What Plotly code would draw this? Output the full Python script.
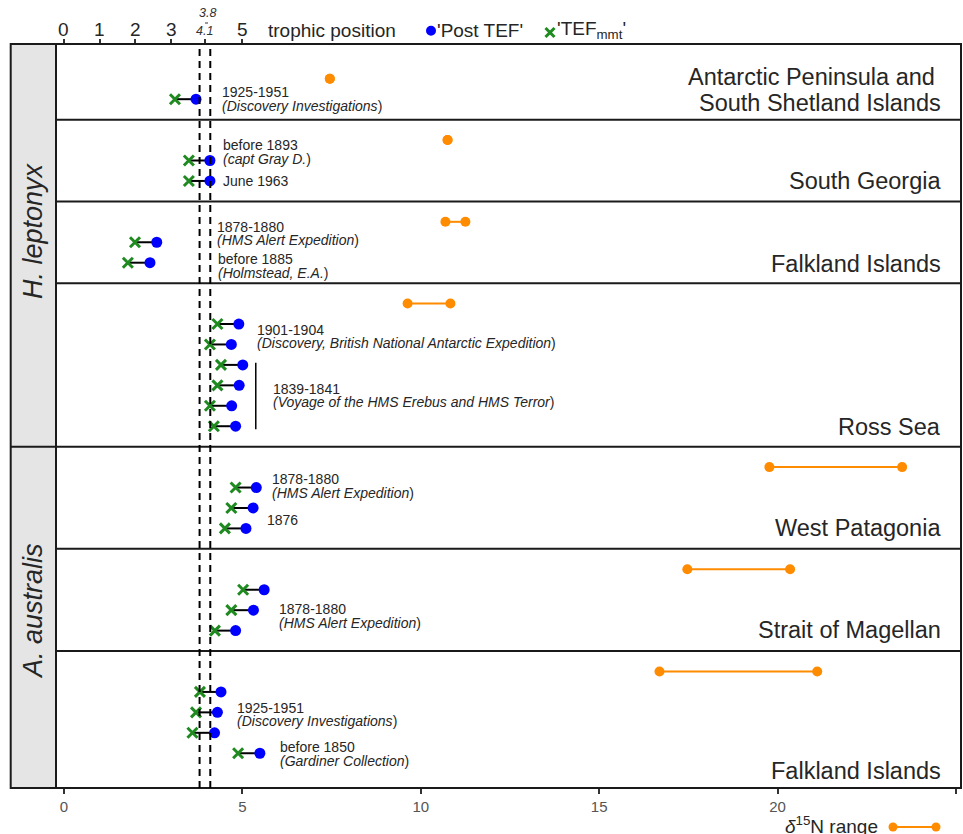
import plotly.graph_objects as go

# ---------------------------------------------------------------- data
regions = [
    "Antarctic Peninsula and South Shetland Islands",
    "South Georgia",
    "Falkland Islands",
    "Ross Sea",
    "West Patagonia",
    "Strait of Magellan",
    "Falkland Islands",
]
species = ["H. leptonyx", "H. leptonyx", "H. leptonyx", "H. leptonyx",
           "A. australis", "A. australis", "A. australis"]

# delta 15N range per region (min, max)
d15n_min = [7.45, 10.75, 10.69, 9.63, 19.77, 17.47, 16.69]
d15n_max = [7.45, 10.75, 11.25, 10.83, 23.49, 20.35, 21.11]

# trophic position per specimen
post_tef = [
    [3.70],
    [4.09, 4.09],
    [2.60, 2.41],
    [4.90, 4.69, 5.01, 4.91, 4.70, 4.81],
    [5.39, 5.30, 5.10],
    [5.61, 5.31, 4.81],
    [4.40, 4.30, 4.22, 5.49],
]
tef_mmt = [
    [3.11],
    [3.50, 3.50],
    [1.99, 1.79],
    [4.30, 4.09, 4.40, 4.30, 4.09, 4.20],
    [4.81, 4.69, 4.51],
    [5.02, 4.69, 4.23],
    [3.81, 3.70, 3.60, 4.88],
]

# collection notes: (panel, year text, source text)
note_panel = [0, 1, 1, 2, 2, 3, 3, 4, 4, 5, 6, 6]
note_year = ["1925-1951", "before 1893", "June 1963", "1878-1880", "before 1885",
             "1901-1904", "1839-1841", "1878-1880", "1876", "1878-1880",
             "1925-1951", "before 1850"]
note_source = ["Discovery Investigations", "capt Gray D.", None,
               "HMS Alert Expedition", "Holmstead, E.A.",
               "Discovery, British National Antarctic Expedition",
               "Voyage of the HMS Erebus and HMS Terror",
               "HMS Alert Expedition", None, "HMS Alert Expedition",
               "Discovery Investigations", "Gardiner Collection"]

tef_lines = [3.8, 4.1]
bottom_ticks = [0, 5, 10, 15, 20, 25]
top_ticks = [0, 1, 2, 3, 5]

# ---------------------------------------------------------------- layout helpers
FONT = "Liberation Sans, Arial, sans-serif"
TXT = "#262626"
ORANGE = "#ff8c00"
BLUE = "#0000ff"
GREEN = "#1f8a1f"

W, H = 963, 834
ML, MR, MT, MB = 56, 2, 44, 46
PW = W - ML - MR
PH = H - MT - MB
XMIN, XMAX = -0.224, 25.14

# panel heights in row units and offset of the first row
panel_rows = [3.7, 4, 4, 8, 5, 5, 6.7]
first_row = [1.7, 1, 1, 1, 1, 1, 1]
name_shift = [20, 20, 19, 20, 21, 21, 17]
tops = [sum(panel_rows[:i]) for i in range(len(panel_rows))]
YMAX = sum(panel_rows)


def px_x(px):
    return (px - ML) / PW


def px_y(py):
    return (H - MB - py) / PH


def orange_row(p):
    return tops[p] + first_row[p]


def sample_row(p, i):
    return tops[p] + first_row[p] + 1 + i


fig = go.Figure()

# d15N range per region
ox, oy = [], []
for p in range(len(regions)):
    ox += [d15n_min[p], d15n_max[p], None]
    oy += [orange_row(p), orange_row(p), None]
fig.add_trace(go.Scatter(x=ox, y=oy, mode="lines+markers",
                         line=dict(color=ORANGE, width=2),
                         marker=dict(color=ORANGE, size=10),
                         hoverinfo="skip", showlegend=False))

# connector between TEF_mmt and post-TEF values
lx, ly, cx, cy, bx, by = [], [], [], [], [], []
for p in range(len(regions)):
    for i, (a, b) in enumerate(zip(tef_mmt[p], post_tef[p])):
        r = sample_row(p, i)
        lx += [a, b, None]
        ly += [r, r, None]
        cx.append(a)
        cy.append(r)
        bx.append(b)
        by.append(r)
fig.add_trace(go.Scatter(x=lx, y=ly, mode="lines",
                         line=dict(color="black", width=2),
                         hoverinfo="skip", showlegend=False))
fig.add_trace(go.Scatter(x=cx, y=cy, mode="markers",
                         marker=dict(symbol="x-thin", size=10,
                                     line=dict(color=GREEN, width=3)),
                         name="'TEF<sub>mmt</sub>'", showlegend=False))
fig.add_trace(go.Scatter(x=bx, y=by, mode="markers",
                         marker=dict(color=BLUE, size=11),
                         name="'Post TEF'", showlegend=False))
# top axis carrier
fig.add_trace(go.Scatter(x=[None], y=[None], xaxis="x2", showlegend=False,
                         hoverinfo="skip"))

shapes = []
annots = []

# species strip
shapes.append(dict(type="rect", xref="paper", yref="paper",
                   x0=px_x(10.7), x1=0, y0=0, y1=1,
                   fillcolor="#e5e5e5", line=dict(color="#1a1a1a", width=2)))

# panel separators
for p in range(1, len(regions)):
    x0 = px_x(10.7) if species[p] != species[p - 1] else 0
    shapes.append(dict(type="line", xref="paper", yref="y",
                       x0=x0, x1=1, y0=tops[p], y1=tops[p],
                       line=dict(color="#1a1a1a", width=2)))

# frame
shapes.append(dict(type="rect", xref="paper", yref="paper",
                   x0=0, x1=1, y0=0, y1=1,
                   line=dict(color="#1a1a1a", width=2)))

# TEF reference lines
for v in tef_lines:
    shapes.append(dict(type="line", xref="x", yref="paper",
                       x0=v, x1=v, y0=0, y1=1,
                       line=dict(color="black", width=2, dash="7px,5px")))

# bracket grouping the 1839-1841 specimens
shapes.append(dict(type="line", xref="x", yref="y",
                   x0=5.375, x1=5.375,
                   y0=sample_row(3, 2) - 0.1, y1=sample_row(3, 5) + 0.15,
                   line=dict(color="black", width=1.5)))

# species labels
sp_names = ["H. leptonyx", "A. australis"]
sp_centers = [px_y(231), px_y(611)]
for name, yc in zip(sp_names, sp_centers):
    annots.append(dict(text=f"<i>{name}</i>", xref="paper", yref="paper",
                       x=px_x(33), y=yc, textangle=-90, showarrow=False,
                       xanchor="center", yanchor="middle",
                       font=dict(size=27, color=TXT)))

# region names (bottom-right of each panel)
for p, name in enumerate(regions):
    bottom = tops[p] + panel_rows[p]
    if p == 0:
        lines = ["Antarctic Peninsula and\u00a0", "South Shetland Islands"]
        shifts = [43, 17]
    else:
        lines = [name]
        shifts = [name_shift[p]]
    for ln, sh in zip(lines, shifts):
        annots.append(dict(text=ln, xref="paper", yref="y",
                           x=px_x(943), y=bottom, yshift=sh,
                           xanchor="right", yanchor="middle", showarrow=False,
                           font=dict(size=23.5, color=TXT)))

# collection notes
note_x = [4.38, 4.41, 4.41, 4.22, 4.25, 5.36, 5.81, 5.77, 5.63, 5.96, 4.79, 6.01]
note_y = [0, -0.42, 1, -0.42, 1.16, 0.6, 3.5, -0.07, 1.6, 1.28, 1.1, 3.03]
for k in range(len(note_year)):
    p = note_panel[k]
    yc = sample_row(p, 0) + note_y[k]
    if note_source[k] is None:
        annots.append(dict(text=note_year[k], x=note_x[k], y=yc,
                           xanchor="left", yanchor="middle", showarrow=False,
                           font=dict(size=14, color=TXT)))
    else:
        annots.append(dict(text=note_year[k], x=note_x[k], y=yc, yshift=6.7,
                           xanchor="left", yanchor="middle", showarrow=False,
                           font=dict(size=14, color=TXT)))
        annots.append(dict(text=f"<i>({note_source[k]}</i>)", x=note_x[k], y=yc,
                           yshift=-6.7, xanchor="left", yanchor="middle",
                           showarrow=False, font=dict(size=14, color=TXT)))

# top axis labels
for t in top_ticks:
    annots.append(dict(text=str(t), xref="x", yref="paper", x=t, y=px_y(29.5),
                       xanchor="center", yanchor="middle", showarrow=False,
                       font=dict(size=19, color=TXT)))
# TEF line values on the top axis
annots.append(dict(text="<i>3.8</i>", xref="x", yref="paper", x=4.02, y=px_y(13),
                   xanchor="center", yanchor="middle",
                   showarrow=False, font=dict(size=12.5, color="#333")))
annots.append(dict(text="<i>4.1</i>", xref="x", yref="paper", x=3.94, y=px_y(31),
                   xanchor="center", yanchor="middle",
                   showarrow=False, font=dict(size=12.5, color="#333")))
shapes.append(dict(type="line", xref="paper", yref="paper",
                   xsizemode="pixel", ysizemode="pixel",
                   xanchor=px_x(206.5), yanchor=px_y(23),
                   x0=-1.5, x1=1.5, y0=0, y1=0,
                   line=dict(color="#333", width=1)))

# top legend
annots.append(dict(text="trophic position", xref="paper", yref="paper",
                   x=px_x(266), y=px_y(30), xanchor="left", yanchor="middle",
                   showarrow=False, font=dict(size=19, color=TXT)))
shapes.append(dict(type="circle", xref="paper", yref="paper",
                   xsizemode="pixel", ysizemode="pixel",
                   xanchor=px_x(431), yanchor=px_y(30.7),
                   x0=-5, x1=5, y0=-5, y1=5,
                   fillcolor=BLUE, line=dict(width=0)))
annots.append(dict(text="'Post TEF'", xref="paper", yref="paper",
                   x=px_x(435), y=px_y(30), xanchor="left", yanchor="middle",
                   showarrow=False, font=dict(size=19, color=TXT)))
for s in (1, -1):
    shapes.append(dict(type="line", xref="paper", yref="paper",
                       xsizemode="pixel", ysizemode="pixel",
                       xanchor=px_x(550), yanchor=px_y(32.5),
                       x0=-4.5, x1=4.5, y0=-4.5 * s, y1=4.5 * s,
                       line=dict(color=GREEN, width=3)))
annots.append(dict(text="'TEF<sub>mmt</sub>'", xref="paper", yref="paper",
                   x=px_x(555), y=px_y(30), xanchor="left", yanchor="middle",
                   showarrow=False, font=dict(size=19, color=TXT)))

# bottom legend: delta 15N range
annots.append(dict(text="<i>δ</i><sup>15</sup>N range", xref="paper", yref="paper",
                   x=px_x(880), y=px_y(825), xanchor="right", yanchor="middle",
                   showarrow=False, font=dict(size=19, color=TXT)))
shapes.append(dict(type="line", xref="paper", yref="paper",
                   x0=px_x(893), x1=px_x(936), y0=px_y(827), y1=px_y(827),
                   line=dict(color=ORANGE, width=2)))
for xp in (893, 936):
    shapes.append(dict(type="circle", xref="paper", yref="paper",
                       xsizemode="pixel", ysizemode="pixel",
                       xanchor=px_x(xp), yanchor=px_y(827),
                       x0=-4.5, x1=4.5, y0=-4.5, y1=4.5,
                       fillcolor=ORANGE, line=dict(width=0)))

fig.update_layout(
    width=W, height=H,
    margin=dict(l=ML, r=MR, t=MT, b=MB, pad=0),
    plot_bgcolor="white", paper_bgcolor="white",
    font=dict(family=FONT, color=TXT),
    showlegend=False,
    xaxis=dict(range=[XMIN, XMAX], tickvals=bottom_ticks,
               ticks="outside", ticklen=5, tickwidth=1.5, tickcolor="#333",
               tickfont=dict(size=15, color="#555"),
               showgrid=False, zeroline=False, showline=False),
    xaxis2=dict(range=[XMIN, XMAX], overlaying="x", side="top",
                tickvals=top_ticks + [3.95], showticklabels=False,
                ticks="outside", ticklen=4, tickwidth=1.5, tickcolor="#333",
                showgrid=False, zeroline=False, showline=False),
    yaxis=dict(range=[YMAX, 0], visible=False, showgrid=False, zeroline=False),
    shapes=shapes,
    annotations=annots,
)

fig.write_html("out.html")
